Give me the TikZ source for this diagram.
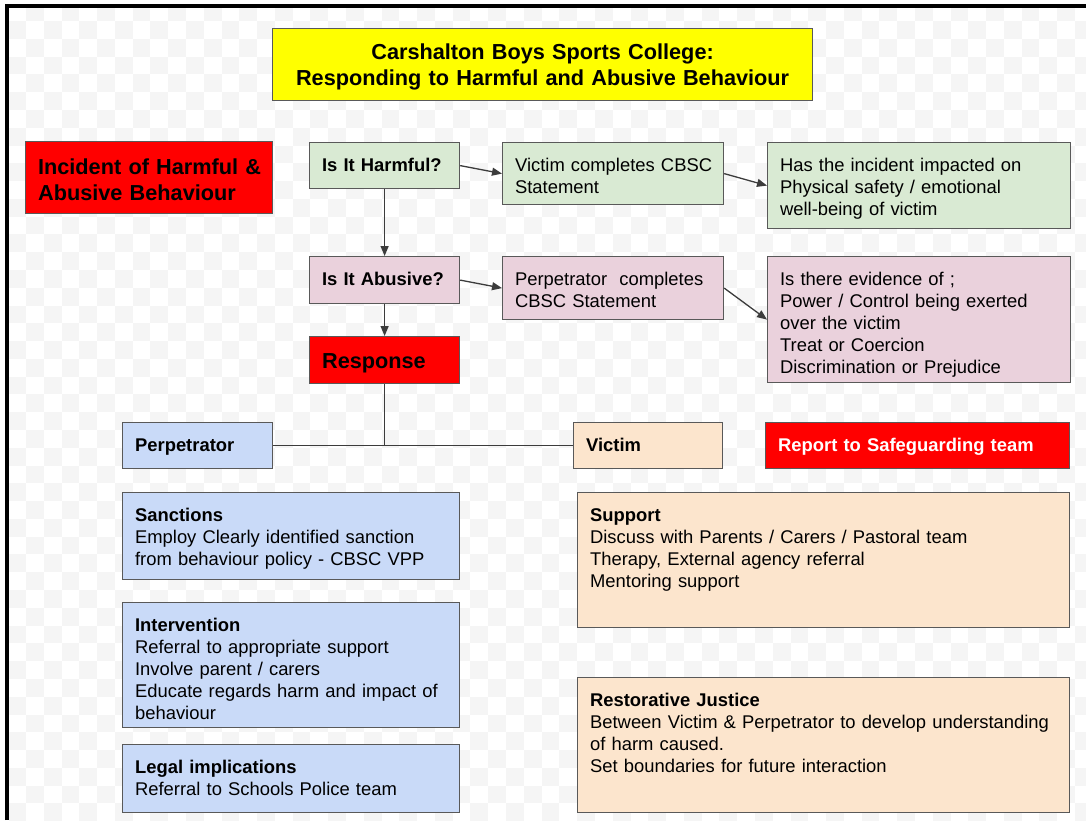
\documentclass[tikz,border=0pt]{standalone}
\usepackage{fontspec}
\setmainfont{Liberation Sans}
\usetikzlibrary{arrows.meta}

\definecolor{edgegray}{RGB}{89,89,89}
\definecolor{wiregray}{RGB}{60,60,60}
\definecolor{checker}{RGB}{245,245,245}
\definecolor{titlefill}{RGB}{255,255,0}
\definecolor{alarm}{RGB}{255,0,0}
\definecolor{harmfill}{RGB}{217,234,211}
\definecolor{abusefill}{RGB}{234,209,220}
\definecolor{perpfill}{RGB}{201,218,248}
\definecolor{victimfill}{RGB}{252,229,205}

\begin{document}
\begin{tikzpicture}[x=1pt, y=-1pt,
  card/.style={anchor=north west, draw=edgegray, line width=1.2pt, inner sep=0pt,
    text height=29pt, font=\fontsize{18.4}{22}\selectfont,
    execute at begin node={\leftskip=12.5pt\rightskip=0pt plus 1fil}},
  bigcard/.style={card, text height=32pt, font=\fontsize{21.7}{26}\selectfont\bfseries},
  wire/.style={draw=wiregray, line width=1.3pt},
  flow/.style={wire, -{Triangle[length=10pt, width=8pt]}},
]

\useasboundingbox (0,0) rectangle (1086,820);

% background
\begin{scope}
\clip (9,8) rectangle (1086,820);
\foreach \j in {0,2,...,46} \foreach \i in {1,3,...,61}
  \fill[checker] (8.2+\i*17.78, 3.3+\j*17.78) rectangle ++(17.78,17.78);
\foreach \j in {1,3,...,45} \foreach \i in {0,2,...,60}
  \fill[checker] (8.2+\i*17.78, 3.3+\j*17.78) rectangle ++(17.78,17.78);
\end{scope}
\draw[line width=4pt] (7,820) -- (7,6.2) -- (1086,6.2);

% title
\node[bigcard, fill=titlefill, text width=540pt, text height=31pt, text depth=41pt] (title) at (272,28)
  {\centering Carshalton Boys Sports College:\\ Responding to Harmful and Abusive Behaviour\par};

% incident and questions
\node[bigcard, fill=alarm, text width=247pt, text height=32.5pt, text depth=39.5pt] (incident) at (25,141)
  {Incident of Harmful \&\\ Abusive Behaviour};
\node[card, fill=harmfill, text width=150pt, text depth=17pt] (harmful) at (309,142)
  {\textbf{Is It Harmful?}};
\node[card, fill=harmfill, text width=221pt, text depth=33pt] (victimStmt) at (502,142)
  {Victim completes CBSC\\ Statement};
\node[card, fill=harmfill, text width=303pt, text depth=57pt] (impact) at (767,142)
  {Has the incident impacted on\\ Physical safety / emotional\\ well-being of victim};
\node[card, fill=abusefill, text width=150pt, text depth=18pt] (abusive) at (309,256)
  {\textbf{Is It Abusive?}};
\node[card, fill=abusefill, text width=221pt, text depth=34pt] (perpStmt) at (502,256)
  {Perpetrator\ \ completes\\ CBSC Statement};
\node[card, fill=abusefill, text width=303pt, text depth=97pt] (evidence) at (767,256)
  {Is there evidence of ;\\ Power / Control being exerted\\ over the victim\\ Treat or Coercion\\ Discrimination or Prejudice};
\node[bigcard, fill=alarm, text width=150pt, text height=31.5pt, text depth=15.5pt] (response) at (309,336)
  {Response};

% response split
\node[card, fill=perpfill, text width=150pt, text depth=17pt] (perp) at (122,422)
  {\textbf{Perpetrator}};
\node[card, fill=victimfill, text width=149pt, text depth=17pt] (victim) at (573,422)
  {\textbf{Victim}};
\node[card, fill=alarm, text=white, text width=304pt, text depth=17pt] (report) at (765,422)
  {\textbf{Report to Safeguarding team}};

% perpetrator actions
\node[card, fill=perpfill, text width=337pt, text depth=58pt] (sanctions) at (122,492)
  {\textbf{Sanctions}\\ Employ Clearly identified sanction\\ from behaviour policy - CBSC VPP};
\node[card, fill=perpfill, text width=337pt, text depth=96pt] (intervention) at (122,602)
  {\textbf{Intervention}\\ Referral to appropriate support\\ Involve parent / carers\\ Educate regards harm and impact of\\ behaviour};
\node[card, fill=perpfill, text width=337pt, text depth=39pt] (legal) at (122,744)
  {\textbf{Legal implications}\\ Referral to Schools Police team};

% victim actions
\node[card, fill=victimfill, text width=492pt, text depth=106pt] (support) at (577,492)
  {\textbf{Support}\\ Discuss with Parents / Carers / Pastoral team\\ Therapy, External agency referral\\ Mentoring support};
\node[card, fill=victimfill, text width=492pt, text depth=106pt] (restorative) at (577,677)
  {\textbf{Restorative Justice}\\ Between Victim \& Perpetrator to develop understanding\\ of harm caused.\\ Set boundaries for future interaction};

% connectors
\draw[flow] (harmful.east) -- (victimStmt.west);
\draw[flow] (victimStmt.east) -- (impact.west);
\draw[flow] (harmful.south) -- (abusive.north);
\draw[flow] (abusive.east) -- (perpStmt.west);
\draw[flow] (perpStmt.east) -- (evidence.west);
\draw[flow] (abusive.south) -- (response.north);
\draw[wire] (response.south) -- (response.south |- perp.east);
\draw[wire] (perp.east) -- (victim.west);

\end{tikzpicture}
\end{document}
